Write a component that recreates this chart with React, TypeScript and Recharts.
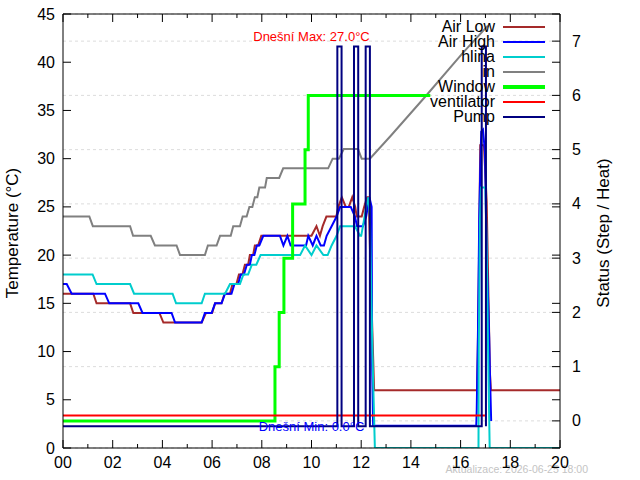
import React from 'react';
import {
  LineChart,
  Line,
  XAxis,
  YAxis,
  CartesianGrid,
  ReferenceLine,
  ReferenceDot,
  Legend,
} from 'recharts';

type Pt = [number, number];

// Time of day in hours, temperature in °C.
const airLow: Pt[] = [
  [0, 16], [1.22, 16], [1.35, 15], [2.7, 15], [2.83, 14], [3.88, 14], [4.04, 13],
  [5.58, 13], [5.75, 14], [6.0, 14], [6.12, 15], [6.38, 15], [6.5, 16], [6.72, 16],
  [6.82, 17], [6.98, 17], [7.08, 18], [7.22, 18], [7.32, 19], [7.45, 19], [7.52, 20],
  [7.65, 20], [7.72, 21], [7.85, 21], [7.98, 22], [10.0, 22], [10.2, 23], [10.34, 22],
  [10.45, 23], [10.6, 24], [11.0, 24], [11.08, 25], [11.22, 26], [11.38, 25], [11.5, 25],
  [11.64, 26], [11.76, 25], [11.82, 24], [12.02, 24], [12.12, 25], [12.24, 26], [12.3, 26],
  [12.36, 20], [12.45, 12], [12.52, 6], [16.66, 6], [16.69, 9.6], [16.73, 16.9],
  [16.79, 31.4], [16.94, 31.4], [17.05, 25.5], [17.09, 20], [17.13, 14.4], [17.18, 7.8],
  [17.22, 6], [20, 6],
];

const airHigh: Pt[] = [
  [0, 17], [0.15, 17], [0.35, 16], [1.69, 16], [1.86, 15], [3.03, 15], [3.2, 14],
  [4.37, 14], [4.51, 13], [5.58, 13], [5.71, 14], [5.98, 14], [6.12, 15], [6.38, 15],
  [6.52, 16], [6.78, 16], [6.9, 17], [7.05, 17], [7.15, 18], [7.28, 18], [7.4, 19],
  [7.52, 19], [7.6, 20], [7.7, 20], [7.8, 21], [7.9, 21], [8.06, 22], [8.73, 22],
  [8.87, 21], [9.03, 22], [9.16, 21], [9.78, 21], [9.87, 22], [10.05, 21], [10.2, 22],
  [10.37, 21], [10.5, 21], [10.61, 22], [10.81, 23], [11.01, 24], [11.15, 25], [11.58, 25],
  [11.75, 24], [11.83, 23], [12.07, 23], [12.2, 24], [12.33, 26], [12.42, 25], [12.44, 8.5],
  [12.48, 2.3], [16.63, 2.3], [16.65, 4], [16.7, 12.2], [16.75, 23.9], [16.79, 28.8],
  [16.83, 32.8], [16.9, 33], [16.98, 30.7], [17.05, 19.8], [17.1, 16], [17.15, 11.5],
  [17.18, 7.8], [17.23, 2.8],
];

const hlina: Pt[] = [
  [0, 18], [1.19, 18], [1.35, 17], [2.7, 17], [2.86, 16], [4.41, 16], [4.55, 15],
  [5.58, 15], [5.71, 16], [6.52, 16], [6.72, 17], [7.12, 17], [7.26, 18], [7.45, 18],
  [7.6, 19], [7.78, 19], [7.95, 20], [9.54, 20], [9.74, 21], [10.0, 20], [10.2, 21],
  [10.48, 20], [10.65, 20], [10.81, 21], [11.01, 22], [11.15, 23], [11.75, 23], [11.95, 22],
  [12.0, 22], [12.07, 23], [12.2, 25], [12.29, 26], [12.35, 24], [12.45, 10], [12.55, 0],
  [16.72, 0], [16.73, 10.2], [16.78, 23.5], [16.82, 27], [17.0, 27], [17.06, 18.8],
  [17.1, 11.2], [17.17, 0], [20, 0],
];

const inside: Pt[] = [
  [0, 24], [1.06, 24], [1.2, 23], [2.7, 23], [2.82, 22], [3.53, 22], [3.7, 21],
  [4.57, 21], [4.71, 20], [5.71, 20], [5.83, 21], [6.18, 21], [6.32, 22], [6.75, 22],
  [6.85, 23], [7.12, 23], [7.23, 24], [7.39, 24], [7.5, 25], [7.62, 25], [7.72, 26],
  [7.82, 26], [7.9, 27], [8.13, 27], [8.2, 28], [8.7, 28], [8.86, 29], [10.67, 29],
  [10.85, 30], [11.1, 30], [11.3, 31], [11.87, 31], [12.02, 30], [12.35, 30],
  [13.2, 32.4], [14.6, 36.5], [16.1, 41], [17.1, 43.8],
];

// Status channels (right axis): step number, fan and pump states.
const windowStep: Pt[] = [
  [0, 0], [8.53, 0], [8.53, 1], [8.7, 1], [8.7, 2], [8.89, 2], [8.89, 3], [9.24, 3],
  [9.24, 4], [9.74, 4], [9.74, 5], [9.87, 5], [9.87, 6], [14.78, 6],
];

const ventilator: Pt[] = [
  [0, 0.1], [16.98, 0.1],
];

const pump: Pt[] = [
  [0, -0.1], [11.04, -0.1], [11.04, 6.9], [11.21, 6.9], [11.21, -0.1],
  [11.71, -0.1], [11.71, 6.9], [11.88, 6.9], [11.88, -0.1],
  [12.18, -0.1], [12.18, 6.9], [12.35, 6.9], [12.35, -0.1],
  [16.85, -0.1], [16.85, 6.9], [17.02, 6.9], [17.02, -0.1],
];

const hourTicks = [0, 1, 2, 3, 4, 5, 6, 7, 8, 9, 10, 11, 12, 13, 14, 15, 16, 17, 18, 19, 20];
const tempTicks = [0, 5, 10, 15, 20, 25, 30, 35, 40, 45];
const statusTicks = [0, 1, 2, 3, 4, 5, 6, 7];

const maxLabel = 'Dnešní Max: 27.0°C';
const minLabel = 'Dnešní Min: 0.0°C';
const stampText = 'Aktualizace: 2026-06-25 18:00';

const FONT = '"Liberation Sans", Arial, Helvetica, sans-serif';
const W = 640;
const H = 480;
const MARGIN = { top: 14, right: 0, bottom: 0, left: 0 };
const LEFT_W = 63;
const RIGHT_W = 80;
const BOTTOM_H = 32;
const PLOT = {
  left: MARGIN.left + LEFT_W,
  right: W - MARGIN.right - RIGHT_W,
  top: MARGIN.top,
  bottom: H - MARGIN.bottom - BOTTOM_H,
};
const MAJOR = 8;
const MINOR = 4;

// Series styling, in drawing and key order.
const SERIES = [
  { name: 'Air Low', pts: airLow, axis: 'left', color: '#a52a2a', width: 2 },
  { name: 'Air High', pts: airHigh, axis: 'left', color: '#0000ff', width: 2 },
  { name: 'hlina', pts: hlina, axis: 'left', color: '#00cdcd', width: 2 },
  { name: 'in', pts: inside, axis: 'left', color: '#808080', width: 2 },
  { name: 'Window', pts: windowStep, axis: 'right', color: '#00ff00', width: 3 },
  { name: 'ventilator', pts: ventilator, axis: 'right', color: '#ff0000', width: 2 },
  { name: 'Pump', pts: pump, axis: 'right', color: '#000080', width: 2 },
];

const rows = (pts: Pt[]) => pts.map(([t, v]) => ({ t, v }));

function LeftTick(props: any) {
  const { y, payload } = props;
  return (
    <g>
      <line x1={PLOT.left} x2={PLOT.left + MAJOR} y1={y} y2={y} stroke="#000" />
      <line x1={PLOT.right} x2={PLOT.right - MAJOR} y1={y} y2={y} stroke="#000" />
      <text
        x={PLOT.left - 8}
        y={y}
        textAnchor="end"
        dominantBaseline="central"
        fontSize={16}
        fontFamily={FONT}
        fill="#000"
      >
        {payload.value}
      </text>
    </g>
  );
}

function RightTick(props: any) {
  const { y, payload } = props;
  return (
    <g>
      <line x1={PLOT.right} x2={PLOT.right - MAJOR} y1={y} y2={y} stroke="#000" />
      <text
        x={PLOT.right + 12}
        y={y}
        textAnchor="start"
        dominantBaseline="central"
        fontSize={16}
        fontFamily={FONT}
        fill="#000"
      >
        {payload.value}
      </text>
    </g>
  );
}

function BottomTick(props: any) {
  const { x, payload } = props;
  const v: number = payload.value;
  const major = v % 2 === 0;
  const len = major ? MAJOR : MINOR;
  return (
    <g>
      <line x1={x} x2={x} y1={PLOT.bottom} y2={PLOT.bottom - len} stroke="#000" />
      <line x1={x} x2={x} y1={PLOT.top} y2={PLOT.top + len} stroke="#000" />
      {major && (
        <text
          x={x}
          y={PLOT.bottom + 14}
          textAnchor="middle"
          dominantBaseline="central"
          fontSize={16}
          fontFamily={FONT}
          fill="#000"
        >
          {String(v).padStart(2, '0')}
        </text>
      )}
    </g>
  );
}

const leftTitle = (props: any) => {
  const vb = props.viewBox;
  const cx = vb.x + 12;
  const cy = vb.y + vb.height / 2 + 2;
  return (
    <text
      x={cx}
      y={cy}
      transform={`rotate(-90 ${cx} ${cy})`}
      textAnchor="middle"
      dominantBaseline="central"
      fontSize={17}
      fontFamily={FONT}
      fill="#000"
    >
      Temperature (°C)
    </text>
  );
};

const rightTitle = (props: any) => {
  const vb = props.viewBox;
  const cx = vb.x + 43;
  const cy = vb.y + vb.height / 2 + 2;
  return (
    <text
      x={cx}
      y={cy}
      transform={`rotate(-90 ${cx} ${cy})`}
      textAnchor="middle"
      dominantBaseline="central"
      fontSize={17}
      fontFamily={FONT}
      fill="#000"
    >
      Status (Step / Heat)
    </text>
  );
};

const stampLabel = (props: any) => {
  const vb = props.viewBox;
  return (
    <text
      x={vb.x + vb.width + 28}
      y={vb.y + 21}
      textAnchor="end"
      dominantBaseline="central"
      fontSize={10.5}
      fontFamily={FONT}
      fill="#c4c4c4"
    >
      {stampText}
    </text>
  );
};

function KeyBox() {
  return (
    <div style={{ fontFamily: FONT }}>
      {SERIES.map((s) => (
        <div
          key={s.name}
          style={{
            display: 'flex',
            alignItems: 'center',
            justifyContent: 'flex-end',
            height: 15,
          }}
        >
          <span style={{ fontSize: 16, lineHeight: '15px', color: '#000', whiteSpace: 'nowrap' }}>
            {s.name}
          </span>
          <span
            style={{
              display: 'inline-block',
              width: 42,
              height: s.width > 2 ? 4 : 2,
              background: s.color,
              marginLeft: 8,
            }}
          />
        </div>
      ))}
    </div>
  );
}

export default function App() {
  return (
    <div style={{ position: 'absolute', left: 0, top: 0, width: W, height: H, background: '#fff' }}>
      <LineChart width={W} height={H} margin={MARGIN}>
        <CartesianGrid
          yAxisId="right"
          vertical={false}
          horizontal
          stroke="#dcdcdc"
          strokeDasharray="3 3"
        />
        <XAxis
          dataKey="t"
          type="number"
          domain={[0, 20]}
          ticks={hourTicks}
          interval={0}
          allowDataOverflow
          height={BOTTOM_H}
          tickLine={false}
          tick={BottomTick}
          axisLine={{ stroke: '#000' }}
          label={stampLabel}
        />
        <YAxis
          yAxisId="left"
          orientation="left"
          type="number"
          domain={[0, 45]}
          ticks={tempTicks}
          interval={0}
          allowDataOverflow
          width={LEFT_W}
          tickLine={false}
          tick={LeftTick}
          axisLine={{ stroke: '#000' }}
          label={leftTitle}
        />
        <YAxis
          yAxisId="right"
          orientation="right"
          type="number"
          domain={[-0.5, 7.5]}
          ticks={statusTicks}
          interval={0}
          allowDataOverflow
          width={RIGHT_W}
          tickLine={false}
          tick={RightTick}
          axisLine={{ stroke: '#000' }}
          label={rightTitle}
        />
        <ReferenceLine yAxisId="left" y={45} stroke="#000" strokeWidth={1} />

        {SERIES.map((s) => (
          <Line
            key={s.name}
            data={rows(s.pts)}
            dataKey="v"
            name={s.name}
            yAxisId={s.axis}
            type="linear"
            stroke={s.color}
            strokeWidth={s.width}
            dot={false}
            activeDot={false}
            isAnimationActive={false}
          />
        ))}

        <ReferenceDot
          yAxisId="left"
          x={10}
          y={42.7}
          r={1}
          fill="none"
          stroke="none"
          label={{ value: maxLabel, position: 'center', fill: '#ff0000', fontSize: 13, fontFamily: FONT }}
        />
        <ReferenceDot
          yAxisId="left"
          x={10}
          y={2.2}
          r={1}
          fill="none"
          stroke="none"
          label={{ value: minLabel, position: 'center', fill: '#0000ff', fontSize: 13, fontFamily: FONT }}
        />

        <Legend
          layout="vertical"
          align="center"
          verticalAlign="middle"
          wrapperStyle={{ position: 'absolute', left: 380, top: 19, width: 165 }}
          content={KeyBox}
        />
      </LineChart>
    </div>
  );
}
